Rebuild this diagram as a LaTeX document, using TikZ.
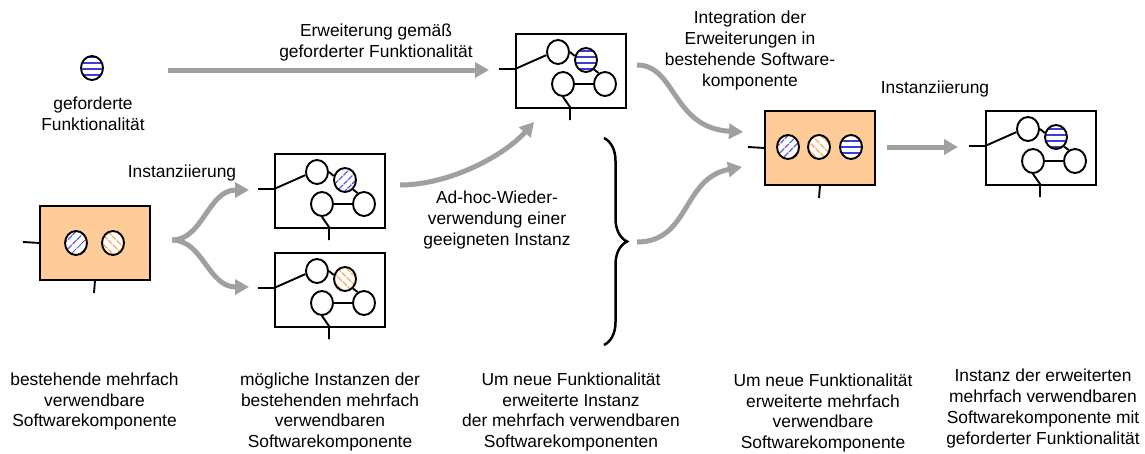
\documentclass[tikz,border=0pt]{standalone}
\usepackage{fontspec}
\setmainfont{Liberation Sans}
\usetikzlibrary{shapes.geometric,arrows.meta,patterns.meta,decorations.pathreplacing}
\definecolor{peach}{RGB}{255,204,153}
\definecolor{hblue}{RGB}{60,60,220}
\definecolor{horange}{RGB}{255,150,50}
\definecolor{agray}{RGB}{160,160,160}
\tikzset{
 ln/.style={line width=1.9pt},
 boxs/.style={draw, line width=1.9pt, minimum width=110pt, minimum height=74pt, inner sep=0pt, anchor=north west},
 circ/.style={ellipse, draw, line width=1.9pt, minimum width=22pt, minimum height=24pt, inner sep=0pt},
 hb/.style={preaction={fill=white}, pattern={Lines[angle=45,distance=6.5pt,line width=1.2pt]}, pattern color=hblue},
 ho/.style={preaction={fill=white}, pattern={Lines[angle=-45,distance=6.5pt,line width=1.2pt]}, pattern color=horange},
 hh/.style={preaction={fill=white}, pattern={Lines[angle=0,distance=6pt,line width=1.2pt]}, pattern color=hblue},
 garrow/.style={draw=agray, line width=5pt, -{Triangle[length=14pt,width=15pt]}},
 lbl/.style={align=center, font=\fontsize{17.4}{21}\selectfont, inner sep=0pt},
 blbl/.style={align=center, font=\fontsize{17.4}{20.8}\selectfont, inner sep=0pt},
}
\newcommand\instbox[4]{%
\begin{scope}[shift={(#2,#3)}]
\node[boxs] (#1) at (0,0) {};
\node[circ] (#1c1) at (43,19) {};
\node[circ,#4] (#1c2) at (71,27) {};
\node[circ] (#1c3) at (48,51) {};
\node[circ] (#1c4) at (90,51) {};
\coordinate (#1in) at (-16,36);
\coordinate (#1b) at (0,36);
\coordinate (#1k) at (55,74);
\coordinate (#1out) at (55,87);
\end{scope}
\draw[ln] (#1in) -- (#1b) -- (#1c1.195);
\draw[ln] (#1c1.east) -- (#1c2.160);
\draw[ln] (#1c2.-50) -- (#1c4.120);
\draw[ln] (#1c3.east) -- (#1c4.west);
\draw[ln] (#1c3.south) -- (#1k) -- (#1out);
}
\begin{document}
\begin{tikzpicture}[x=1pt,y=-1pt]
\useasboundingbox (0,0) rectangle (1145,453);
% required functionality
\node[circ,hh] (gf) at (92,68) {};
\node[lbl] (gfl) at (93,113.5) {geforderte\\Funktionalität};
% left component
\node[boxs, fill=peach] (K1) at (39,205) {};
\node[circ,hb] (K1a) at (76,243) {};
\node[circ,ho] (K1b) at (113,243) {};
\coordinate (K1in) at (23,242);
\coordinate (K1out) at (94,293);
\draw[ln] (K1in) -- (K1.west);
\draw[ln] (K1.south) -- (K1out);
% instances
\instbox{A}{274}{153}{hb}
\instbox{B}{274}{252}{ho}
\instbox{T}{515}{33}{hh}
\instbox{R}{985}{110}{hh}
% right component
\node[boxs, fill=peach] (K2) at (764,110) {};
\node[circ,hb] (K2a) at (788,147) {};
\node[circ,ho] (K2b) at (819,147) {};
\node[circ,hh] (K2c) at (851,147) {};
\coordinate (K2in) at (748,147);
\coordinate (K2out) at (819,198);
\draw[ln] (K2in) -- (K2.west);
\draw[ln] (K2.south) -- (K2out);
% brace
\coordinate (brt) at (604,138);
\coordinate (brb) at (604,345);
\draw[line width=2.5pt, decorate, decoration={brace, amplitude=23pt}] (brt) -- (brb);
% arrows
\coordinate (a1s) at (168,70);
\coordinate (a1e) at (489,70);
\draw[garrow] (a1s) -- (a1e);
\coordinate (fork) at (172,240);
\coordinate (fA) at (249,190);
\coordinate (fB) at (249,287);
\draw[garrow] (fork) .. controls (203,240) and (208,190) .. (fA);
\draw[garrow] (fork) .. controls (203,240) and (208,287) .. (fB);
\coordinate (a3s) at (400,185);
\coordinate (a3e) at (534,122);
\draw[garrow] (a3s) .. controls (450,185) and (505,155) .. (a3e);
\coordinate (a4s) at (637,65);
\coordinate (a4e) at (743,132);
\draw[garrow] (a4s) .. controls (676,65) and (672,128) .. (a4e);
\coordinate (a5s) at (637,242);
\coordinate (a5e) at (742,167);
\draw[garrow] (a5s) .. controls (690,242) and (682,178) .. (a5e);
\coordinate (a6s) at (887,147);
\coordinate (a6e) at (958,147);
\draw[garrow] (a6s) -- (a6e);
% labels
\node[lbl] (l1) at (376,42.5) {Erweiterung gemäß\\geforderter Funktionalität};
\node[lbl] (l2) at (182,173) {Instanziierung};
\node[lbl] (l3) at (935,89) {Instanziierung};
\node[lbl] (l4) at (750,50) {Integration der\\Erweiterungen in\\bestehende Software-\\komponente};
\node[lbl] (l5) at (497,220) {Ad-hoc-Wieder-\\verwendung einer\\geeigneten Instanz};
\node[blbl] (b1) at (94.5,401.5) {bestehende mehrfach\\verwendbare\\Softwarekomponente};
\node[blbl] (b2) at (330,412) {mögliche Instanzen der\\bestehenden mehrfach\\verwendbaren\\Softwarekomponente};
\node[blbl] (b3) at (571,412) {Um neue Funktionalität\\erweiterte Instanz\\der mehrfach verwendbaren\\Softwarekomponenten};
\node[blbl] (b4) at (823,413) {Um neue Funktionalität\\erweiterte mehrfach\\verwendbare\\Softwarekomponente};
\node[blbl] (b5) at (1043,408.5) {Instanz der erweiterten\\mehrfach verwendbaren\\Softwarekomponente mit\\geforderter Funktionalität};
\end{tikzpicture}
\end{document}
